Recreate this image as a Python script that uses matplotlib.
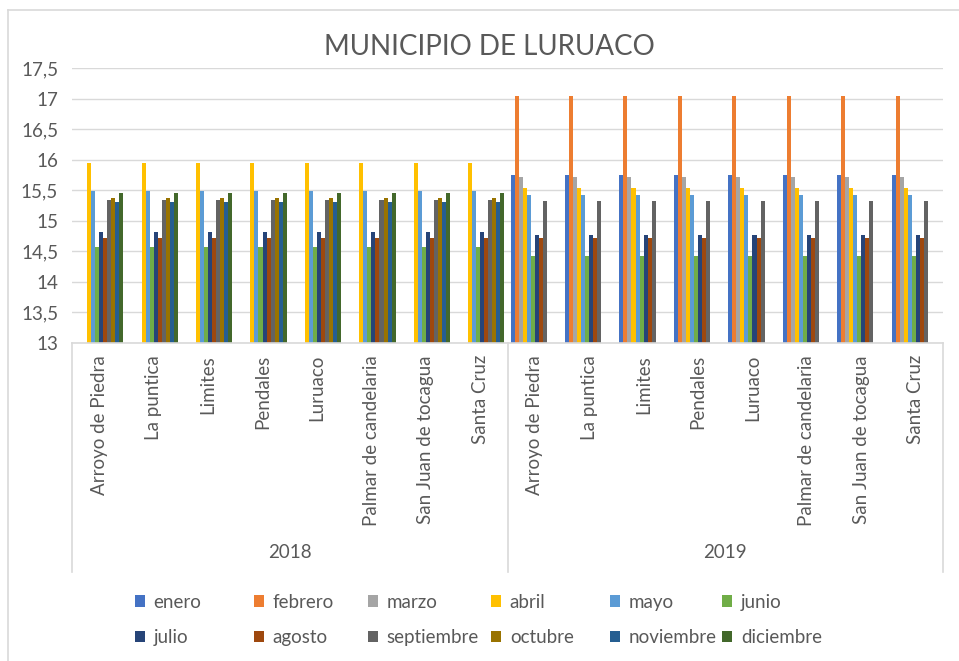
import numpy as np
import matplotlib
matplotlib.use("Agg")
import matplotlib.pyplot as plt
from matplotlib.transforms import blended_transform_factory
from matplotlib.lines import Line2D

plt.rcParams['font.family'] = ['Lato', 'DejaVu Sans']

sites = ["Arroyo de Piedra", "La puntica", "Limites", "Pendales", "Luruaco",
         "Palmar de candelaria", "San Juan de tocagua", "Santa Cruz"]
years = ["2018", "2019"]
months = ["enero", "febrero", "marzo", "abril", "mayo", "junio",
          "julio", "agosto", "septiembre", "octubre", "noviembre", "diciembre"]
colors = ["#4472C4", "#ED7D31", "#A5A5A5", "#FFC000", "#5B9BD5", "#70AD47",
          "#264478", "#9E480E", "#636363", "#997300", "#255E91", "#43682B"]

nan = np.nan
# value per month: 2018 (same for all 8 sites), 2019 (same for all 8 sites)
vals_2018 = [nan, nan, nan, 15.95, 15.49, 14.57, 14.82, 14.71, 15.34, 15.38, 15.30, 15.45]
vals_2019 = [15.75, 17.05, 15.72, 15.53, 15.42, 14.42, 14.76, 14.71, 15.33, nan, nan, nan]

W, H = 959, 661
fig = plt.figure(figsize=(W / 100, H / 100), dpi=100)
txt = "#595959"
fs = 13.5

# outer chart border (partial, as in the crop)
fig.add_artist(Line2D([8 / W, 8 / W], [0, 1 - 10 / H], transform=fig.transFigure,
                      color="#D9D9D9", lw=1.2))
fig.add_artist(Line2D([8 / W, 1], [1 - 10 / H, 1 - 10 / H], transform=fig.transFigure,
                      color="#D9D9D9", lw=1.2))

left, right, top, bottom = 72, 943, 68, 343
ax = fig.add_axes([left / W, 1 - bottom / H, (right - left) / W, (bottom - top) / H])

ncat = len(sites) * len(years)
x = np.arange(ncat)
nser = len(months)
bw = 1.0 / (nser + 1.5)
for i, m in enumerate(months):
    heights = [vals_2018[i]] * len(sites) + [vals_2019[i]] * len(sites)
    offs = -0.5 + 0.75 * bw + i * bw + bw / 2
    ax.bar(x + offs, heights, width=bw, color=colors[i], label=m, zorder=2)

ax.set_xlim(-0.5, ncat - 0.5)
ax.set_ylim(13, 17.5)
ax.set_yticks(np.arange(13, 17.51, 0.5))
ax.set_yticklabels([("%g" % v).replace(".", ",") for v in np.arange(13, 17.51, 0.5)],
                   color=txt, fontsize=fs)
ax.tick_params(axis='y', length=0, pad=10)
ax.tick_params(axis='x', length=0)
ax.set_xticks([])
ax.grid(axis='y', color="#D9D9D9", lw=1, zorder=0)
for s in ["left", "right", "top"]:
    ax.spines[s].set_visible(False)
ax.spines["bottom"].set_color("#D9D9D9")
ax.spines["bottom"].set_linewidth(1.2)

tr = blended_transform_factory(ax.transData, fig.transFigure)
# category labels
labels = sites * len(years)
for xi, lab in zip(x, labels):
    ax.text(xi, 1 - 355 / H, lab, transform=tr, rotation=90, ha='center', va='top',
            fontsize=fs, color=txt)
# group separators
for xs in [-0.5, len(sites) - 0.5, ncat - 0.5]:
    fig.add_artist(Line2D([xs, xs], [1 - bottom / H, 1 - 572 / H], transform=tr,
                          color="#D9D9D9", lw=1.2))
# year labels
for j, yr in enumerate(years):
    xc = j * len(sites) + (len(sites) - 1) / 2
    ax.text(xc, 1 - 553 / H, yr, transform=tr, ha='center', va='center',
            fontsize=fs, color=txt)

fig.text(489 / W, 1 - 47 / H, "MUNICIPIO DE LURUACO", ha='center', va='center',
         fontsize=20, color=txt)

handles, labs = ax.get_legend_handles_labels()
# legend: 6 columns, 2 rows
ncol = 6
col_x = [135, 254, 368, 491, 610, 722]
for c in range(ncol):
    idx = [c, c + ncol]
    leg = fig.legend([handles[k] for k in idx], [labs[k] for k in idx],
                     loc='center left', bbox_to_anchor=(col_x[c] / W, 1 - 620 / H),
                     frameon=False, fontsize=fs, handlelength=0.55, handleheight=0.55,
                     handletextpad=0.45, labelspacing=1.0, borderpad=0, borderaxespad=0)
    for t in leg.get_texts():
        t.set_color(txt)

fig.savefig("out.png", dpi=100)
